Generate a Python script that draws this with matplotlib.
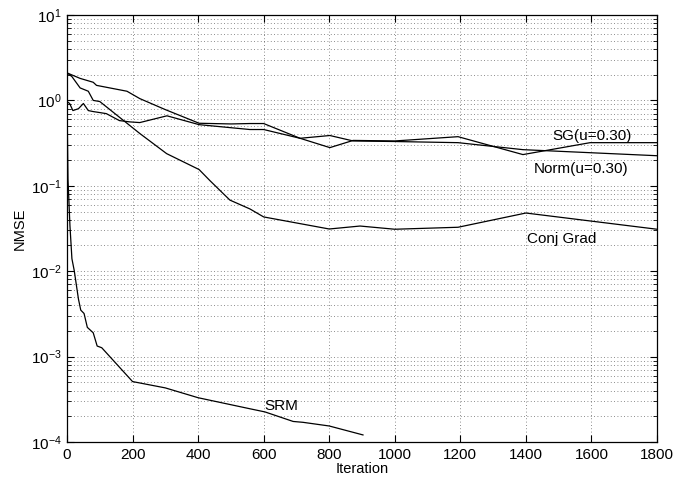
import matplotlib
matplotlib.use("Agg")
import matplotlib.pyplot as plt
from matplotlib.ticker import LogLocator, NullFormatter

plt.rcParams['font.family'] = ['Liberation Sans', 'DejaVu Sans']

# ---- data ----
sg_x = [0, 40, 80, 90, 183, 222, 300, 403, 500, 558, 600, 711, 802, 873, 1000, 1193, 1391, 1596, 1800]
sg_y = [2.1, 1.81, 1.63, 1.5, 1.28, 1.05, 0.78, 0.54, 0.53, 0.536, 0.536, 0.36, 0.28, 0.34, 0.335, 0.376, 0.232, 0.32, 0.32]

norm_x = [0, 8, 18, 35, 50, 65, 80, 100, 120, 160, 192, 222, 305, 403, 558, 600, 711, 802, 873, 1000, 1193, 1391, 1800]
norm_y = [0.97, 0.92, 0.76, 0.80, 0.92, 0.76, 0.74, 0.72, 0.70, 0.58, 0.56, 0.55, 0.66, 0.52, 0.456, 0.456, 0.36, 0.388, 0.335, 0.33, 0.32, 0.265, 0.225]

cg_x = [0, 15, 40, 65, 80, 100, 222, 304, 403, 436, 497, 558, 600, 800, 894, 1000, 1193, 1400, 1800]
cg_y = [2.1, 1.9, 1.4, 1.28, 1.0, 0.97, 0.41, 0.238, 0.155, 0.115, 0.068, 0.0536, 0.0432, 0.0312, 0.0338, 0.031, 0.0327, 0.048, 0.031]

srm_x = [0, 1, 3, 9, 15, 22, 35, 42, 52, 62, 80, 92, 106, 200, 300, 400, 558, 604, 690, 720, 800, 903]
srm_y = [2.0, 0.5, 0.12, 0.034, 0.014, 0.0102, 0.0047, 0.0035, 0.0032, 0.0022, 0.0019, 0.00133, 0.00127,
         0.00051, 0.00043, 0.00033, 0.000245, 0.000225, 0.000174, 0.00017, 0.000154, 0.000121]

labels = ["SG(u=0.30)", "Norm(u=0.30)", "Conj Grad", "SRM"]
label_pos = [(1480, 0.388), (1425, 0.158), (1404, 0.0238), (602, 2.65e-4)]

xticks = [0, 200, 400, 600, 800, 1000, 1200, 1400, 1600, 1800]

# ---- figure ----
fig = plt.figure(figsize=(6.87, 4.78), dpi=100)
ax = fig.add_axes([67/687, 1 - 442/478, 590/687, (442 - 15)/478])

for xs, ys in [(sg_x, sg_y), (norm_x, norm_y), (cg_x, cg_y), (srm_x, srm_y)]:
    ax.plot(xs, ys, color='black', lw=0.9)

ax.set_yscale('log')
ax.set_xlim(0, 1800)
ax.set_ylim(1e-4, 1e1)
ax.set_xticks(xticks)
ax.yaxis.set_major_locator(LogLocator(base=10, numticks=10))
ax.yaxis.set_minor_locator(LogLocator(base=10, subs=range(2, 10), numticks=20))
ax.yaxis.set_minor_formatter(NullFormatter())

ax.grid(True, which='major', axis='both', linestyle=(0, (1, 3)), color='black', lw=0.6, alpha=0.6)
ax.grid(True, which='minor', axis='y', linestyle=(0, (1, 3)), color='black', lw=0.6, alpha=0.6)

ax.tick_params(which='both', direction='in', top=True, right=True, labelsize=11)
ax.tick_params(which='major', length=5, width=0.8, pad=4)
ax.tick_params(which='minor', length=3, width=0.6)
for s in ax.spines.values():
    s.set_linewidth(0.9)

for txt, (tx, ty) in zip(labels, label_pos):
    ax.text(tx, ty, txt, fontsize=11, ha='left', va='center')

ax.set_xlabel("Iteration", fontsize=10.5, labelpad=0)
ax.set_ylabel("NMSE", fontsize=10.5, labelpad=3)

fig.savefig("out.png", dpi=100)
